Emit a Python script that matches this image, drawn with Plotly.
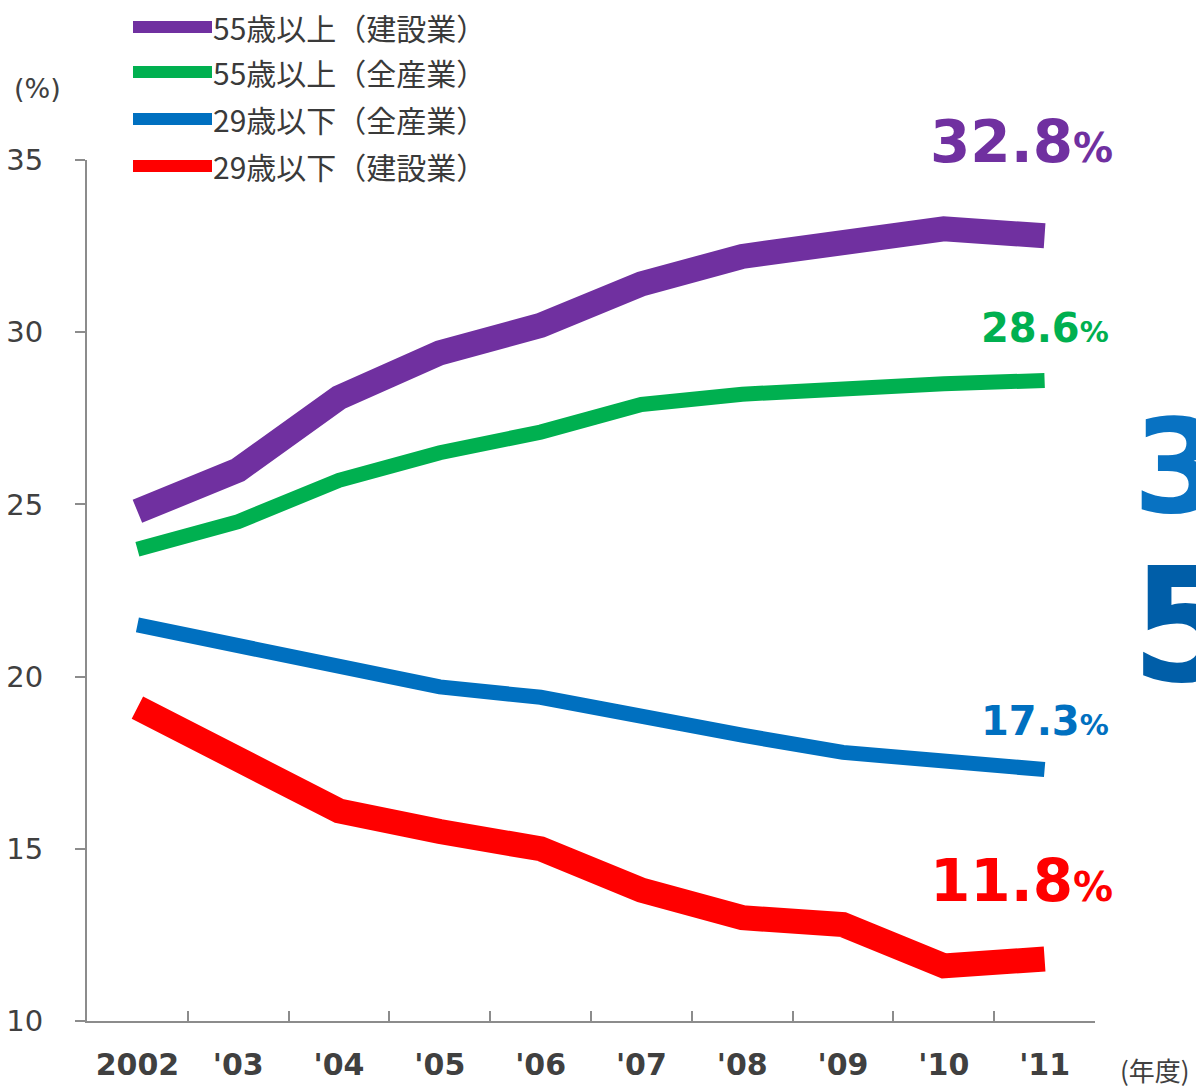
import plotly.graph_objects as go

# ---- data ----
years = ["2002", "'03", "'04", "'05", "'06", "'07", "'08", "'09", "'10", "'11"]
names = ["55歳以上（建設業）", "55歳以上（全産業）", "29歳以下（全産業）", "29歳以下（建設業）"]
s55_con = [24.8, 26.0, 28.1, 29.4, 30.2, 31.4, 32.2, 32.6, 33.0, 32.8]
s55_all = [23.7, 24.5, 25.7, 26.5, 27.1, 27.9, 28.2, 28.4, 28.5, 28.6]
s29_all = [21.5, 20.9, 20.2, 19.7, 19.4, 18.8, 18.3, 17.8, 17.5, 17.3]
s29_con = [19.1, 17.7, 16.1, 15.5, 15.0, 13.8, 13.0, 12.8, 11.6, 11.8]
y_ticks = [10, 15, 20, 25, 30, 35]
side_text = ["3", "5"]
y_unit = "(%)"
x_unit = "(年度)"

series = [s55_con, s55_all, s29_all, s29_con]

# ---- styles ----
colors = ["#7030A0", "#00B050", "#0070C0", "#FF0000"]
widths = [25, 15, 15, 25]
label_sizes = [(58, 40), (40, 29), (40, 29), (58, 40)]
label_shift = [(70, 94), (66, 52), (66, 49), (70, 78)]
legend_rows = [27, 72, 119, 166]
AXC = "#8c8c8c"
TXT = "#404040"

W, H = 1196, 1087
L, R, T, B = 87, 1095, 160, 1021


def px(x):
    return (x - L) / (R - L)


def py(y):
    return (B - y) / (B - T)


fig = go.Figure()
for i in [3, 2, 1, 0]:
    fig.add_trace(go.Scatter(
        x=years, y=series[i], mode="lines", name=names[i],
        line=dict(color=colors[i], width=widths[i]),
        showlegend=False, hoverinfo="skip"))

shapes = []
annotations = []
for i, name in enumerate(names):
    shapes.append(dict(type="line", xref="paper", yref="paper",
                       x0=px(133), x1=px(212), y0=py(legend_rows[i]), y1=py(legend_rows[i]),
                       line=dict(color=colors[i], width=12)))
    annotations.append(dict(text=name, xref="paper", yref="paper",
                            x=px(211), y=py(legend_rows[i]), xanchor="left", yanchor="middle",
                            showarrow=False,
                            font=dict(family="Noto Sans CJK JP", size=30, color="#3a3a3a")))

for i, s in enumerate(series):
    big, small = label_sizes[i]
    annotations.append(dict(
        text=f"{s[-1]:.1f}<span style='font-size:{small}px'>%</span>",
        xref="x", yref="y", x=years[-1], y=s[-1],
        xanchor="right", yanchor="middle",
        xshift=label_shift[i][0], yshift=label_shift[i][1],
        showarrow=False,
        font=dict(family="DejaVu Sans", size=big, color=colors[i], weight="bold")))

annotations.append(dict(text=side_text[0], xref="paper", yref="paper",
                        x=px(1131), y=py(467), xanchor="left", yanchor="middle", showarrow=False,
                        font=dict(family="DejaVu Sans", size=130, color="#0872C2", weight="bold")))
annotations.append(dict(text=side_text[1], xref="paper", yref="paper",
                        x=px(1129), y=py(626), xanchor="left", yanchor="middle", showarrow=False,
                        font=dict(family="DejaVu Sans", size=158, color="#005ea8", weight="bold")))

annotations.append(dict(text=y_unit, xref="paper", yref="paper", x=px(37), y=py(88),
                        xanchor="center", yanchor="middle", showarrow=False,
                        font=dict(family="DejaVu Sans", size=27, color=TXT)))
annotations.append(dict(text=x_unit, xref="paper", yref="paper", x=px(1155), y=py(1069),
                        xanchor="center", yanchor="middle", showarrow=False,
                        font=dict(family="Noto Sans CJK JP", size=26, color=TXT)))

fig.update_layout(
    width=W, height=H,
    margin=dict(l=L, r=W - R, t=T, b=H - B, pad=0, autoexpand=False),
    paper_bgcolor="white", plot_bgcolor="white",
    showlegend=False,
    shapes=shapes, annotations=annotations,
    xaxis=dict(type="category", categoryorder="array", categoryarray=years,
               range=[-0.5, 9.5], showgrid=False, zeroline=False, automargin=False,
               showline=True, linecolor=AXC, linewidth=2,
               ticks="inside", tickson="boundaries", ticklen=10, tickwidth=2, tickcolor=AXC,
               tickfont=dict(family="DejaVu Sans", size=30, color=TXT, weight="bold"),
               ticklabelstandoff=16),
    yaxis=dict(range=[10, 35], tickvals=y_ticks, showgrid=False, zeroline=False, automargin=False,
               showline=True, linecolor=AXC, linewidth=2,
               ticks="outside", ticklen=10, tickwidth=2, tickcolor=AXC,
               tickfont=dict(family="DejaVu Sans", size=29, color=TXT),
               ticklabelstandoff=26),
)

fig.write_html("out.html", config={"displayModeBar": False},
               post_script="document.body.style.margin='0';")
